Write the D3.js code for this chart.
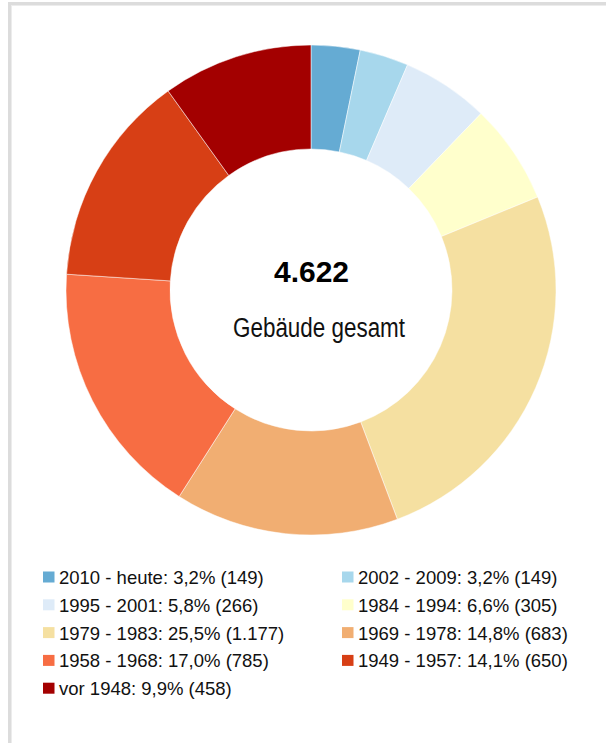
<!DOCTYPE html>
<html>
<head>
<meta charset="utf-8">
<script src="https://cdn.jsdelivr.net/npm/d3@7"></script>
<style>
  body { margin: 0; background: #fff; }
  text { font-family: "Liberation Sans", Arial, sans-serif; }
</style>
</head>
<body>
<div id="chart"></div>
<script>
/* Donut chart: Gebäude nach Baujahr */

const width = 606,
    height = 743;

const categories = ["2010 - heute", "2002 - 2009", "1995 - 2001", "1984 - 1994", "1979 - 1983",
    "1969 - 1978", "1958 - 1968", "1949 - 1957", "vor 1948"];
const counts = [149, 149, 266, 305, 1177, 683, 785, 650, 458];
const shares = ["3,2%", "3,2%", "5,8%", "6,6%", "25,5%", "14,8%", "17,0%", "14,1%", "9,9%"];
const countLabels = ["149", "149", "266", "305", "1.177", "683", "785", "650", "458"];
const colors = ["#65abd3", "#a7d7ec", "#deebf8", "#ffffcc", "#f5e0a1",
    "#f1ae72", "#f76d43", "#d73f15", "#a30000"];
const totalLabel = "4.622";
const subLabel = "Gebäude gesamt";

const svg = d3.select("#chart")
    .append("svg")
    .attr("width", width)
    .attr("height", height);

/* frame */
svg.append("rect")
    .attr("x", 9.5).attr("y", 3.5)
    .attr("width", width + 20).attr("height", height + 20)
    .attr("fill", "none")
    .attr("stroke", "#dcdcdc")
    .attr("stroke-width", 3);
svg.append("rect")
    .attr("x", 11.5).attr("y", 5.5)
    .attr("width", width + 20).attr("height", height + 20)
    .attr("fill", "none")
    .attr("stroke", "#ececec")
    .attr("stroke-width", 1);

const cx = 311, cy = 290, rOuter = 245, rInner = 141;

const pie = d3.pie().sort(null).value(d => d);
const arc = d3.arc().innerRadius(rInner).outerRadius(rOuter);

const g = svg.append("g").attr("transform", `translate(${cx},${cy})`);

g.selectAll("path")
    .data(pie(counts))
    .join("path")
    .attr("d", arc)
    .attr("fill", (d, i) => colors[i])
    .attr("stroke", "#fff")
    .attr("stroke-width", 0.5);

g.append("text")
    .attr("text-anchor", "middle")
    .attr("x", 0.5)
    .attr("y", -8)
    .attr("font-size", 30)
    .attr("font-weight", "bold")
    .attr("fill", "#000")
    .text(totalLabel);

/* subtitle is a narrow face in the original: squeeze it */
g.append("text")
    .attr("text-anchor", "middle")
    .attr("x", 8)
    .attr("y", 47)
    .attr("font-size", 27)
    .attr("textLength", 172)
    .attr("lengthAdjust", "spacingAndGlyphs")
    .attr("fill", "#111")
    .text(subLabel);

/* legend, two columns */
const legend = svg.append("g");
const item = legend.selectAll("g")
    .data(categories)
    .join("g")
    .attr("transform", (d, i) => `translate(${i % 2 === 0 ? 43 : 342},${578 + Math.floor(i / 2) * 27.8})`);

item.append("rect")
    .attr("x", 0).attr("y", -6.5)
    .attr("width", 11.5).attr("height", 11)
    .attr("fill", (d, i) => colors[i]);

item.append("text")
    .attr("x", 16)
    .attr("y", 6)
    .attr("font-size", 18.5)
    .attr("fill", "#111")
    .text((d, i) => `${d}: ${shares[i]} (${countLabels[i]})`);
</script>
</body>
</html>
